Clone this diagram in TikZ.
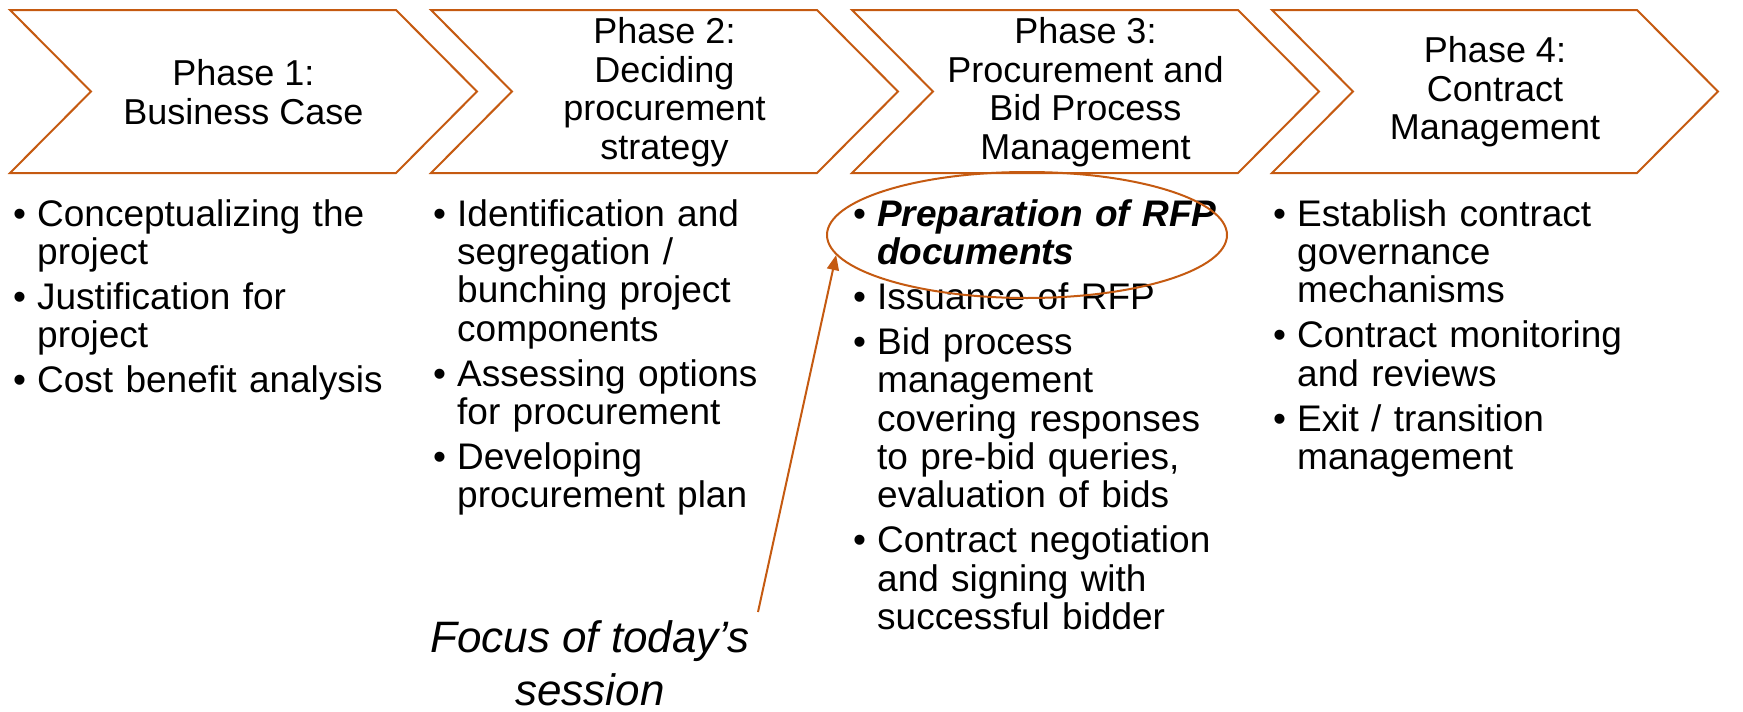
\documentclass[tikz,border=0pt]{standalone}
\usepackage{fontspec,tikz}
\usetikzlibrary{shapes.geometric,arrows.meta}
\setmainfont{Liberation Sans}
\definecolor{accent}{HTML}{C55A11}

% one bullet point with hanging indent
\newcommand{\phaseitem}[1]{\par\noindent\hangindent=24pt\hangafter=1%
  \makebox[24pt][l]{\textbullet}\rule{0pt}{28pt}#1\par}

\tikzset{
  chevron/.style={draw=accent,line width=2pt,line join=miter},
  phase/.style={align=center,inner sep=0pt,font=\fontsize{36}{38.5}\selectfont},
  points/.style={anchor=north west,inner sep=0pt,text width=400pt,align=left,
    font=\fontsize{37}{38.3}\selectfont,execute at begin node={\setlength{\parskip}{6.7pt}}},
  note/.style={anchor=north,inner sep=8pt,align=center,font=\fontsize{44}{53}\selectfont\itshape},
}

\begin{document}
\begin{tikzpicture}[x=1pt,y=-1pt]
\useasboundingbox (0,0) rectangle (1743,712);

% the four phase arrows
\foreach \x/\w in {10/467,431/467,852/467,1272/446}
  \draw[chevron] (\x,10) -- (\x+\w-81,10) -- (\x+\w,91.5) -- (\x+\w-81,173)
    -- (\x,173) -- (\x+81,91.5) -- cycle;

\node[phase] (ph1) at (243.5,92) {Phase 1:\\Business Case};
\node[phase] (ph2) at (664.5,92) {Phase 2:\\Deciding\\procurement\\strategy};
\node[phase] (ph3) at (1085.5,92) {Phase 3:\\Procurement and\\Bid Process\\Management};
\node[phase] (ph4) at (1495,92) {Phase 4:\\Contract\\Management};

% activities under each phase
\node[points] (pts1) at (13,181) {%
  \phaseitem{Conceptualizing the\newline project}%
  \phaseitem{Justification for\newline project}%
  \phaseitem{Cost benefit analysis}};
\node[points] (pts2) at (433,181) {%
  \phaseitem{Identification and\newline segregation /\newline bunching project\newline components}%
  \phaseitem{Assessing options\newline for procurement}%
  \phaseitem{Developing\newline procurement plan}};
\node[points] (pts3) at (853,181) {%
  \phaseitem{\textbf{\textit{Preparation of RFP\newline documents}}}%
  \phaseitem{Issuance of RFP}%
  \phaseitem{Bid process\newline management\newline covering responses\newline to pre-bid queries,\newline evaluation of bids}%
  \phaseitem{Contract negotiation\newline and signing with\newline successful bidder}};
\node[points] (pts4) at (1273,181) {%
  \phaseitem{Establish contract\newline governance\newline mechanisms}%
  \phaseitem{Contract monitoring\newline and reviews}%
  \phaseitem{Exit / transition\newline management}};

% highlight
\node[draw=accent,line width=2pt,ellipse,minimum width=400pt,minimum height=126pt,inner sep=0pt] (rfp) at (1027,235) {};
\node[note] (today) at (590,612) {Focus of today’s\\session};
\draw[accent,line width=2pt,-{Triangle[length=15pt,width=12pt]}] (today.north east) -- (rfp.186);
\end{tikzpicture}
\end{document}
